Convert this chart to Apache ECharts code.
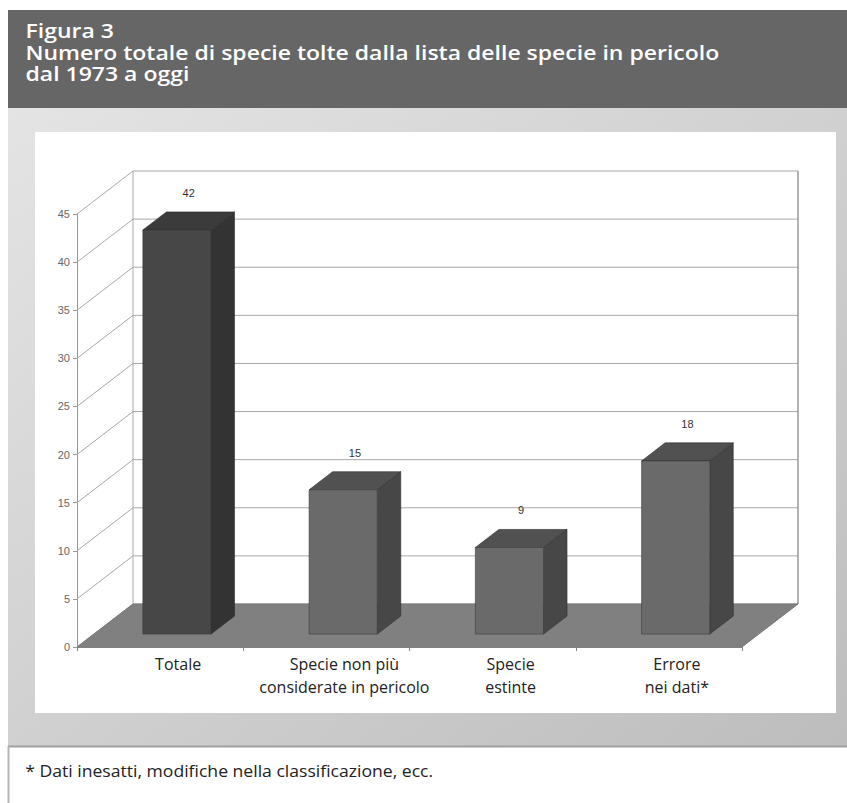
<!DOCTYPE html>
<html><head><meta charset="utf-8">
<script src="https://cdn.jsdelivr.net/npm/echarts@6/dist/echarts.min.js"></script>
<style>html,body{margin:0;padding:0;background:#fff;}#c{width:847px;height:803px;}</style>
</head><body><div id="c"></div>
<script>
// ---- data ----
const categories = ['Totale', 'Specie non più\nconsiderate in pericolo', 'Specie\nestinte', 'Errore\nnei dati*'];
const values = [42, 15, 9, 18];
const yTicks = [0, 5, 10, 15, 20, 25, 30, 35, 40, 45];
const titleLines = ['Figura 3', 'Numero totale di specie tolte dalla lista delle specie in pericolo', 'dal 1973 a oggi'];
const footnote = '* Dati inesatti, modifiche nella classificazione, ecc.';

// ---- 3D look parameters ----
const DX = 56, DY = -43;          // full depth offset of back wall
const BAR_FRONT = 0.3, BAR_BACK = 0.72;
const BAR_W = 0.41;
const FONT = '"Open Sans", "Noto Sans", sans-serif';

const chart = echarts.init(document.getElementById('c'), null, {renderer: 'svg'});

function wallItem(params, api) {
  const cs = params.coordSys;
  const x0 = cs.x, x1 = cs.x + cs.width;
  const y = api.coord([0, api.value(1)])[1];
  return {
    type: 'polyline',
    shape: {points: [[x0, y], [x0 + DX, y + DY], [x1 + DX, y + DY]]},
    style: {stroke: '#a8a8a8', lineWidth: 1, fill: null}
  };
}
function frameItem(params, api) {
  const cs = params.coordSys;
  const x0 = cs.x, x1 = cs.x + cs.width;
  const yb = api.coord([0, yTicks[0]])[1];
  const yt = api.coord([0, yTicks[yTicks.length - 1]])[1];
  return {
    type: 'group',
    children: [
      {type: 'line', shape: {x1: x0 + DX, y1: yb + DY, x2: x0 + DX, y2: yt + DY}, style: {stroke: '#a8a8a8', lineWidth: 1}},
      {type: 'line', shape: {x1: x1 + DX, y1: yb + DY, x2: x1 + DX, y2: yt + DY}, style: {stroke: '#999', lineWidth: 1.5}},
      {type: 'polygon', shape: {points: [[x0, yb], [x1, yb], [x1 + DX, yb + DY], [x0 + DX, yb + DY]]},
        style: {fill: '#808080', stroke: '#7a7a7a', lineWidth: 1}}
    ]
  };
}
function barItem(params, api) {
  const i = api.value(0), v = api.value(1);
  const top = api.coord([i, v]);
  const base = api.coord([i, 0]);
  const w = api.size([1, 0])[0] * BAR_W;
  const fdx = DX * BAR_FRONT, fdy = DY * BAR_FRONT;
  const ddx = DX * (BAR_BACK - BAR_FRONT), ddy = DY * (BAR_BACK - BAR_FRONT);
  const xl = top[0] - w / 2 + fdx, xr = xl + w;
  const yt = top[1] + fdy, yb = base[1] + fdy;
  const dark = i === 0;
  const cFront = dark ? '#474747' : '#6a6a6a';
  const cSide = dark ? '#333333' : '#474747';
  const cTop = dark ? '#3b3b3b' : '#515151';
  return {
    type: 'group',
    children: [
      {type: 'polygon', shape: {points: [[xr, yt], [xr + ddx, yt + ddy], [xr + ddx, yb + ddy], [xr, yb]]}, style: {fill: cSide, stroke: '#2e2e2e', lineWidth: 0.6}},
      {type: 'polygon', shape: {points: [[xl, yt], [xr, yt], [xr + ddx, yt + ddy], [xl + ddx, yt + ddy]]}, style: {fill: cTop, stroke: '#2e2e2e', lineWidth: 0.6}},
      {type: 'rect', shape: {x: xl, y: yt, width: w, height: yb - yt}, style: {fill: cFront, stroke: '#3a3a3a', lineWidth: 0.6}},
      {type: 'text', x: xl + w / 2 + ddx / 2, y: yt + ddy - 19,
        style: {text: String(v), fill: '#333', font: '11px "Liberation Sans", Arial, sans-serif', align: 'center', verticalAlign: 'middle'}}
    ]
  };
}

const titleY = [30.5, 52, 73.5];
const titleGraphics = titleLines.map((t, k) => ({
  type: 'text', z: 5, x: 30, y: titleY[k], scaleX: 1.15, originX: 30,
  style: {text: t, fill: '#fff', font: '600 20px ' + FONT, verticalAlign: 'middle', align: 'left'}
}));

const option = {
  animation: false,
  backgroundColor: '#fff',
  graphic: [
    {type: 'rect', z: -10, shape: {x: 8, y: 10, width: 839, height: 98}, style: {fill: '#666666'}},
    {type: 'rect', z: -10, shape: {x: 8, y: 108, width: 839, height: 638},
      style: {fill: {type: 'linear', x: 0, y: 0, x2: 1, y2: 1, colorStops: [{offset: 0, color: '#e4e4e4'}, {offset: 1, color: '#bdbdbd'}]}}},
    {type: 'rect', z: -9, shape: {x: 35, y: 132, width: 801, height: 581}, style: {fill: '#fff'}},
    {type: 'line', z: -9, shape: {x1: 8, y1: 746.5, x2: 847, y2: 746.5}, style: {stroke: '#a0a0a0', lineWidth: 2}},
    {type: 'line', z: -9, shape: {x1: 8.5, y1: 746, x2: 8.5, y2: 803}, style: {stroke: '#b5b5b5', lineWidth: 2}},
    ...titleGraphics,
    {type: 'text', z: 5, x: 28, y: 771, scaleX: 1.1, originX: 28,
      style: {text: footnote, fill: '#222', font: '16px ' + FONT, verticalAlign: 'middle', align: 'left'}}
  ],
  grid: {left: 77, right: 105, top: 214, bottom: 156, containLabel: false},
  xAxis: {
    type: 'category', data: categories,
    axisLine: {show: true, lineStyle: {color: '#888', width: 1}},
    axisTick: {show: true, length: 4, lineStyle: {color: '#888'}},
    axisLabel: {interval: 0, fontSize: 16, color: '#222', fontFamily: FONT, lineHeight: 23, margin: 5, padding: [0, 0, 0, 36]},
    splitLine: {show: false}
  },
  yAxis: {
    type: 'value', min: yTicks[0], max: yTicks[yTicks.length - 1], interval: 5,
    axisLine: {show: true, lineStyle: {color: '#999', width: 1}},
    axisTick: {show: true, length: 4, lineStyle: {color: '#999'}},
    axisLabel: {fontSize: 11, color: '#666', fontFamily: '"Liberation Sans", Arial, sans-serif', margin: 7},
    splitLine: {show: false}
  },
  series: [
    {type: 'custom', name: 'walls', renderItem: wallItem, data: yTicks.map(t => [0, t]), silent: true, z: 1},
    {type: 'custom', name: 'frame', renderItem: frameItem, data: [[0, 0]], silent: true, z: 2},
    {type: 'custom', name: 'bars', renderItem: barItem, data: values.map((v, i) => [i, v]), z: 3}
  ]
};
chart.setOption(option);
</script>
</body></html>
